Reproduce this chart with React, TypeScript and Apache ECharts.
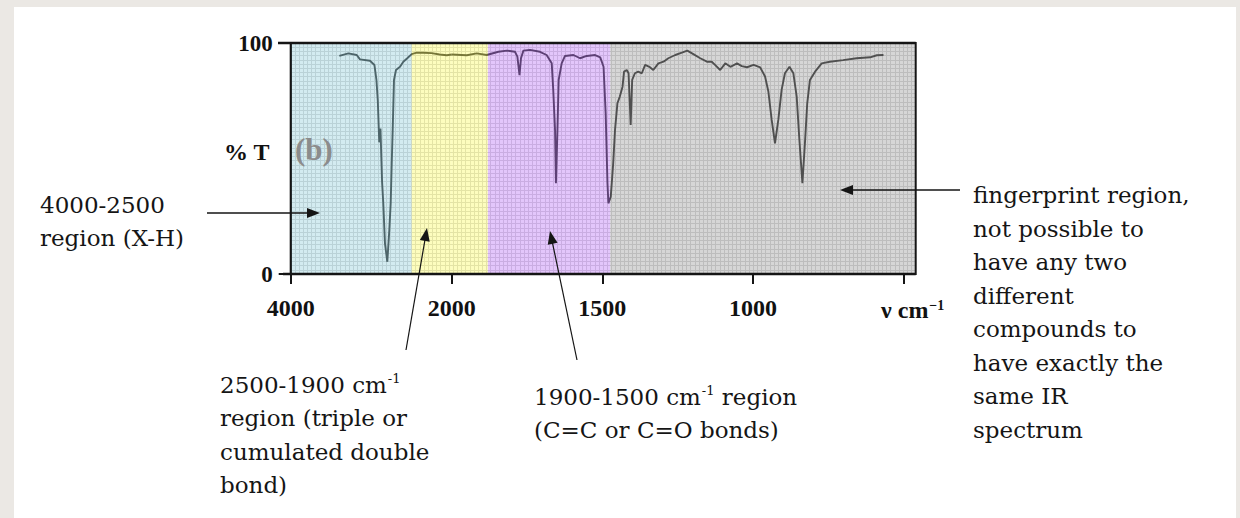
import React, { useEffect, useRef } from 'react';
import * as echarts from 'echarts';

// ---- data ----
// left (compressed) part of the axis: 4000 -> 2000 cm-1
const leftWavenumbers = [3396, 3284, 3180, 3139, 3015, 2960, 2935, 2918, 2900, 2885, 2865, 2850, 2829, 2800, 2775, 2758, 2745, 2733, 2717, 2692, 2642, 2601, 2552, 2497, 2435, 2350, 2250, 2150, 2062, 2000];
const leftTransmittance = [94.4, 95.5, 94.8, 92.9, 92.3, 90.5, 84, 75, 57, 63, 40, 30.6, 13.3, 5.3, 19, 30.6, 48, 62.3, 84, 88.3, 89.7, 91.9, 93.4, 95.2, 95.8, 95.8, 95.6, 95.0, 94.7, 95.0];
// right part of the axis: 2000 -> 460 cm-1
const rightWavenumbers = [2000, 1950, 1917, 1884, 1845, 1817, 1790, 1782, 1775, 1770, 1762, 1740, 1707, 1685, 1668, 1663, 1657, 1654, 1649, 1645, 1635, 1624, 1596, 1574, 1552, 1524, 1507, 1496, 1489, 1483, 1480, 1472, 1464, 1458, 1450, 1442, 1433, 1428, 1419, 1413, 1406, 1401, 1392, 1381, 1369, 1358, 1344, 1331, 1314, 1297, 1281, 1258, 1236, 1218, 1198, 1175, 1153, 1137, 1126, 1109, 1092, 1075, 1053, 1037, 1020, 998, 976, 960, 949, 938, 927, 916, 905, 894, 879, 866, 855, 846, 836, 827, 820, 811, 794, 772, 745, 701, 656, 611, 589, 567];
const rightTransmittance = [95.0, 94.7, 95.5, 94.8, 96.2, 96.7, 96.2, 94.1, 86.1, 93.4, 96.7, 97, 96.2, 94.8, 91.2, 79.7, 62.3, 39.3, 62.3, 84, 91.2, 94.4, 94.8, 93.4, 94.4, 94.8, 93.8, 89.7, 69.6, 39.3, 30.6, 33.5, 47.9, 62.3, 73.9, 76.8, 81.1, 87.6, 88.3, 86.9, 64.5, 84, 86.9, 87.6, 86.9, 90.5, 89.7, 88.3, 91.2, 91.9, 93.4, 94.8, 95.8, 96.7, 95.2, 93.4, 91.9, 91.9, 90.5, 88.3, 91.2, 89.7, 91.2, 90, 89.5, 90.5, 89.4, 85.5, 79, 66.7, 56.6, 66.7, 79.7, 86.9, 89.7, 86.9, 76.8, 58, 39.3, 58, 73.9, 84, 87.6, 91.2, 91.9, 92.6, 93.4, 93.8, 94.7, 94.8];

const yTickValues = [0, 100];
const leftTickValues = [4000, 2000];
const leftLabelValues = [4000];
const rightTickValues = [2000, 1500, 1000, 500];
const rightLabelValues = [2000, 1500, 1000];

// coloured regions (edges in cm-1, as drawn)
const regionEdges = [4000, 2497, 1880, 1474, 460];
const regionColors = ['rgb(158,211,222)', 'rgb(251,251,110)', 'rgb(193,129,247)', 'rgb(164,164,164)'];
const axisBreak = 2000;

// ---- layout ----
const PLOT_LEFT = 290.7;
const PLOT_TOP = 43;
const PLOT_H = 231;
const BREAK_X = 451.7;
const PLOT_RIGHT = 915.7;

const SERIF = '"DejaVu Serif", serif';
const AXIS_FONT = '"Liberation Serif", "Times New Roman", serif';
const INK = '#151515';

function arrow(x1: number, y1: number, x2: number, y2: number, w = 1.3) {
  const dx = x2 - x1, dy = y2 - y1;
  const len = Math.hypot(dx, dy);
  const ux = dx / len, uy = dy / len;
  const hl = 13, hw = 5;
  const bx = x2 - ux * hl, by = y2 - uy * hl;
  return [
    { type: 'line', z: 100, silent: true, shape: { x1, y1, x2: bx + ux * 2, y2: by + uy * 2 }, style: { stroke: INK, lineWidth: w } },
    { type: 'polygon', z: 100, silent: true, shape: { points: [[x2, y2], [bx - uy * hw, by + ux * hw], [bx + uy * hw, by - ux * hw]] }, style: { fill: INK } },
  ];
}

function bandPairs(lo: number, hi: number) {
  const out: any[] = [];
  for (let i = 0; i < regionColors.length; i++) {
    const a = Math.min(regionEdges[i], hi);
    const b = Math.max(regionEdges[i + 1], lo);
    if (a > b) out.push([{ xAxis: a, itemStyle: { color: regionColors[i], opacity: 0.45 } }, { xAxis: b }]);
  }
  return out;
}

const textRich = { sup: { fontSize: 13, fontFamily: SERIF, fill: INK, verticalAlign: 'top', padding: [3, 0, 0, 1] } };
const plain = (v: number) => String(v);

function buildOption(): any {
  const leftData = leftWavenumbers.map((w, i) => [w, leftTransmittance[i]]);
  const rightData = rightWavenumbers.map((w, i) => [w, rightTransmittance[i]]);
  const tickStyle = { show: true, length: 10, lineStyle: { color: INK, width: 2 } };
  const xLabel = { fontFamily: AXIS_FONT, fontSize: 24, fontWeight: 'bold', color: '#111', margin: 22, formatter: plain };
  const gridLine = { show: true, lineStyle: { color: '#d2d2d2', width: 1 } };
  return {
    animation: false,
    grid: [
      { left: PLOT_LEFT, top: PLOT_TOP, width: PLOT_RIGHT - PLOT_LEFT, height: PLOT_H },
      { left: PLOT_LEFT, top: PLOT_TOP, width: BREAK_X - PLOT_LEFT, height: PLOT_H },
      { left: BREAK_X, top: PLOT_TOP, width: PLOT_RIGHT - BREAK_X, height: PLOT_H },
    ],
    xAxis: [
      { gridIndex: 0, type: 'value', min: 0, max: 150, interval: 1, axisLine: { show: false }, axisTick: { show: false }, axisLabel: { show: false }, splitLine: gridLine },
      { gridIndex: 1, type: 'value', inverse: true, min: axisBreak, max: 4000, interval: 2000, axisLine: { show: false }, splitLine: { show: false },
        axisTick: { ...tickStyle, customValues: leftTickValues }, axisLabel: { ...xLabel, customValues: leftLabelValues } },
      { gridIndex: 2, type: 'value', inverse: true, min: 460, max: axisBreak, axisLine: { show: false }, splitLine: { show: false },
        axisTick: { ...tickStyle, customValues: rightTickValues }, axisLabel: { ...xLabel, customValues: rightLabelValues } },
    ],
    yAxis: [
      { gridIndex: 0, type: 'value', min: 0, max: 55, interval: 1, axisLine: { show: false }, axisTick: { show: false }, axisLabel: { show: false }, splitLine: gridLine },
      { gridIndex: 1, type: 'value', min: 0, max: 100, interval: 100, splitLine: { show: false },
        axisLine: { show: true, lineStyle: { color: INK, width: 2 } },
        axisTick: { show: true, length: 12, lineStyle: { color: INK, width: 2 }, customValues: yTickValues },
        axisLabel: { fontFamily: AXIS_FONT, fontSize: 23, fontWeight: 'bold', color: '#111', margin: 18, formatter: plain, customValues: yTickValues } },
      { gridIndex: 2, type: 'value', min: 0, max: 100, show: false },
    ],
    series: [
      { type: 'line', xAxisIndex: 1, yAxisIndex: 1, data: leftData, showSymbol: false, z: 3, lineStyle: { color: '#0c0c0c', width: 1.9 } },
      { type: 'line', xAxisIndex: 2, yAxisIndex: 2, data: rightData, showSymbol: false, z: 3, lineStyle: { color: '#0c0c0c', width: 1.9 } },
      { type: 'line', xAxisIndex: 1, yAxisIndex: 1, data: [], z: 10, markArea: { silent: true, z: 10, data: bandPairs(axisBreak, 4000) } },
      { type: 'line', xAxisIndex: 2, yAxisIndex: 2, data: [], z: 10, markArea: { silent: true, z: 10, data: bandPairs(460, axisBreak) } },
    ],
    graphic: [
      { type: 'rect', z: 100, silent: true, shape: { x: PLOT_LEFT, y: PLOT_TOP, width: PLOT_RIGHT - PLOT_LEFT, height: PLOT_H }, style: { fill: 'none', stroke: INK, lineWidth: 2 } },
      { type: 'line', z: 100, silent: true, shape: { x1: 283, y1: PLOT_TOP + PLOT_H, x2: PLOT_RIGHT, y2: PLOT_TOP + PLOT_H }, style: { stroke: INK, lineWidth: 2.5 } },
      { type: 'line', z: 100, silent: true, shape: { x1: 278, y1: PLOT_TOP, x2: PLOT_RIGHT, y2: PLOT_TOP }, style: { stroke: INK, lineWidth: 2.5 } },
      { type: 'text', z: 100, x: 224, y: 152, style: { text: '% T', fontFamily: AXIS_FONT, fontSize: 24, fontWeight: 'bold', fill: '#111', verticalAlign: 'middle' } },
      { type: 'text', z: 100, x: 295, y: 149, style: { text: '(b)', fontFamily: AXIS_FONT, fontSize: 31, fontWeight: 'bold', fill: '#8c8c8c', verticalAlign: 'middle' } },
      { type: 'text', z: 100, x: 881, y: 310, style: { text: 'ν cm{sup|−1}', fontFamily: AXIS_FONT, fontSize: 24, fontWeight: 'bold', fill: '#111', verticalAlign: 'middle', rich: { sup: { fontSize: 14, fontWeight: 'bold', fontFamily: AXIS_FONT, fill: '#111', verticalAlign: 'top', padding: [0, 0, 0, 1] } } } },
      { type: 'text', z: 100, x: 40, y: 188.5, style: { text: '4000-2500\nregion (X-H)', fontFamily: SERIF, fontSize: 23, fill: INK, lineHeight: 33, verticalAlign: 'top' } },
      { type: 'text', z: 100, x: 220, y: 368.5, style: { text: '2500-1900 cm{sup|-1}\nregion (triple or\ncumulated double\nbond)', fontFamily: SERIF, fontSize: 23, fill: INK, lineHeight: 33.3, verticalAlign: 'top', rich: textRich } },
      { type: 'text', z: 100, x: 534, y: 380.5, style: { text: '1900-1500 cm{sup|-1} region\n(C=C or C=O bonds)', fontFamily: SERIF, fontSize: 23, fill: INK, lineHeight: 33, verticalAlign: 'top', rich: textRich } },
      { type: 'text', z: 100, x: 973, y: 178.5, style: { text: 'fingerprint region,\nnot possible to\nhave any two\ndifferent\ncompounds to\nhave exactly the\nsame IR\nspectrum', fontFamily: SERIF, fontSize: 23, fill: INK, lineHeight: 33.5, verticalAlign: 'top' } },
      ...arrow(207, 213, 320, 213, 1.6),
      ...arrow(960, 190, 840, 190, 1.6),
      ...arrow(406, 350, 427, 228, 1.2),
      ...arrow(577, 360, 550, 231, 1.2),
    ],
  };
}

export default function App() {
  const ref = useRef<HTMLDivElement>(null);
  useEffect(() => {
    if (!ref.current) return;
    const chart = echarts.init(ref.current, null, { renderer: 'svg' });
    chart.setOption(buildOption());
    return () => chart.dispose();
  }, []);
  return (
    <div style={{ position: 'fixed', left: 0, top: 0, width: 1240, height: 518, background: '#ebe8e4', overflow: 'hidden' }}>
      <div style={{ position: 'absolute', left: 14, top: 7, width: 1222, height: 511, background: '#ffffff' }} />
      <div ref={ref} style={{ position: 'absolute', left: 0, top: 0, width: 1240, height: 518 }} />
    </div>
  );
}
